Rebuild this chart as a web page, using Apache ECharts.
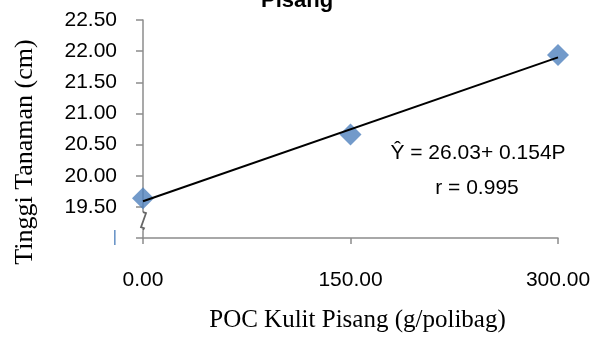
<!DOCTYPE html>
<html><head><meta charset="utf-8">
<script src="https://cdn.jsdelivr.net/npm/echarts@6/dist/echarts.min.js"></script>
<style>html,body{margin:0;padding:0;background:#fff}#c{width:597px;height:338px}</style>
</head><body><div id="c"></div>
<script>
const doseX = [0, 150, 300];
const heightY = [19.64, 20.66, 21.94];
const trendX = [0, 300];
const trendY = [19.59, 21.90];
const yTicks = [19.0, 19.5, 20.0, 20.5, 21.0, 21.5, 22.0, 22.5];
const xTicks = [0, 150, 300];
const breakAt = [0, 19.27];
const titleText = 'Pisang';
const yName = 'Tinggi Tanaman (cm)';
const xName = 'POC Kulit Pisang (g/polibag)';
const eqLines = ['Ŷ = 26.03+ 0.154P', 'r = 0.995'];

const axisColor = '#8c8c8c';
const chart = echarts.init(document.getElementById('c'));
chart.setOption({
  animation: false,
  title: {text: titleText, left: 256, top: -15, textStyle: {fontFamily: 'Liberation Sans', fontWeight: 'bold', fontSize: 22, color: '#000'}},
  grid: {left: 143, right: 39, top: 20, bottom: 98},
  xAxis: {
    type: 'value', min: xTicks[0], max: xTicks[xTicks.length-1], interval: 150,
    axisLine: {show: true, onZero: false, lineStyle: {color: axisColor, width: 1.5}},
    axisTick: {show: true, length: 6, lineStyle: {color: axisColor, width: 1.5}},
    splitLine: {show: false},
    axisLabel: {margin: 32, fontFamily: 'Liberation Sans', fontSize: 21, color: '#000', formatter: v => v.toFixed(2)},
    name: xName, nameLocation: 'middle', nameGap: 70,
    nameTextStyle: {fontFamily: 'Liberation Serif', fontSize: 25, color: '#000', padding: [0, 0, 0, 14]}
  },
  yAxis: {
    type: 'value', min: yTicks[0], max: yTicks[yTicks.length-1], interval: 0.5,
    axisLine: {show: true, onZero: false, lineStyle: {color: axisColor, width: 1.5}},
    axisTick: {show: true, length: 7, lineStyle: {color: axisColor, width: 1.5}},
    splitLine: {show: false},
    axisLabel: {margin: 26, fontFamily: 'Liberation Sans', fontSize: 21, color: '#000',
      formatter: v => v === yTicks[0] ? '{b||}' : v.toFixed(2),
      rich: {b: {color: '#4F81BD', fontSize: 16, fontFamily: 'Liberation Sans'}}}
  },
  graphic: [
    {type: 'text', x: 25, y: 152, rotation: Math.PI/2,
     style: {text: yName, font: '26px "Liberation Serif"', fill: '#000', align: 'center', verticalAlign: 'middle'}},
    {type: 'text', x: 478, y: 153,
     style: {text: eqLines[0], font: '21px "Liberation Sans"', fill: '#000', align: 'center', verticalAlign: 'middle'}},
    {type: 'text', x: 477, y: 188,
     style: {text: eqLines[1], font: '21px "Liberation Sans"', fill: '#000', align: 'center', verticalAlign: 'middle'}}
  ],
  series: [
    {type: 'custom', silent: true, z: 1, data: [breakAt],
     renderItem: (params, api) => {
       const p = api.coord([api.value(0), api.value(1)]);
       const x = p[0], y = p[1];
       return {type: 'group', children: [
         {type: 'rect', shape: {x: x - 3, y: y - 9, width: 6, height: 18}, style: {fill: '#fff'}},
         {type: 'polyline', shape: {points: [[x, y - 9], [x + 3, y - 8], [x - 2, y + 6], [x + 1, y + 7], [x, y + 9]]},
          style: {stroke: '#666', lineWidth: 1.8, fill: null}}
       ]};
     }},
    {type: 'line', data: trendX.map((x, i) => [x, trendY[i]]), symbol: 'none', z: 3,
     lineStyle: {color: '#000', width: 2}},
    {type: 'scatter', data: doseX.map((x, i) => [x, heightY[i]]), symbol: 'diamond', symbolSize: [22, 22], z: 2,
     itemStyle: {color: '#4F81BD'}}
  ]
});
</script></body></html>
